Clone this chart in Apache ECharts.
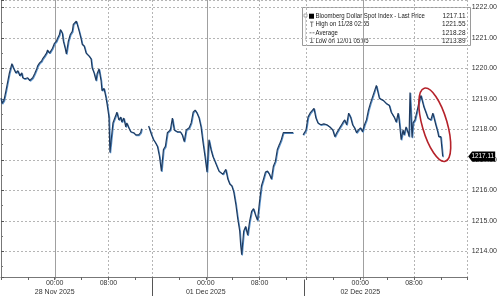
<!DOCTYPE html>
<html>
<head>
<meta charset="utf-8">
<script src="https://cdn.jsdelivr.net/npm/echarts@6/dist/echarts.min.js"></script>
<style>
html,body{margin:0;padding:0;background:#fff;}
#c{width:500px;height:296px;}
</style>
</head>
<body>
<div id="c"></div>
<script>
// ---- data (trading-time hours from chart start, price) ----
const hours = [
0,0.15,0.44,0.74,1.03,1.25,1.62,1.84,2.06,2.21,2.51,2.80,3.10,3.24,3.54,3.83,3.98,4.28,4.57,4.72,
5.01,5.31,5.46,5.75,6.05,6.19,6.49,6.78,6.93,7.23,7.52,7.67,7.96,8.26,8.41,8.70,8.85,9.14,9.29,9.59,
9.73,10.03,10.32,10.62,10.77,11.06,11.21,11.36,11.65,11.95,12.09,12.39,12.68,12.83,13.13,13.42,13.57,13.86,14.16,14.31,
14.60,14.90,15.04,15.34,15.63,15.78,16.08,16.22,16.52,16.67,17.11,17.26,17.55,17.85,17.99,18.29,18.58,18.73,19.03,19.32,
19.47,19.76,20.06,20.21,20.50,20.80,20.94,21.45,
21.98,22.27,22.42,22.71,23.01,23.30,23.60,23.89,24.19,24.48,24.78,25.22,25.52,25.81,26.25,26.70,26.99,27.29,27.58,28.02,
28.32,28.61,28.91,29.20,29.50,29.79,30.09,30.38,30.68,30.97,31.27,31.56,31.86,32.15,32.45,32.74,33.04,33.48,33.78,34.07,
34.37,34.66,34.96,35.25,35.55,35.69,35.84,36.14,36.43,36.73,37.02,37.32,37.61,37.91,38.20,38.50,38.79,39.09,39.38,39.68,
39.97,40.27,40.56,40.86,41.15,41.45,41.74,42.04,42.33,42.63,42.92,43.22,43.51,44.20,
44.99,45.43,45.72,46.02,46.31,46.61,46.90,47.20,47.64,48.08,48.53,48.97,49.41,49.71,50.00,50.44,50.88,51.18,51.47,51.77,
52.06,52.36,52.65,52.95,53.24,53.54,53.83,54.13,54.42,54.72,55.01,55.31,55.60,55.90,56.34,56.93,57.37,57.82,58.11,58.55,
58.85,59.14,59.29,59.59,59.88,60.03,60.32,60.62,60.77,60.91,61.21,61.36,61.65,62.09,62.24,62.54,62.83,62.98,63.27,63.57,
63.72,64.01,64.31,64.45,64.75,65.04,65.19,65.49,65.63,65.78
];
const price = [
1219.02,1218.85,1218.95,1219.27,1219.60,1219.85,1220.15,1220.02,1219.98,1219.85,1219.92,1219.76,1219.85,1219.69,1219.66,1219.60,1219.69,1219.60,1219.66,1219.69,
1219.82,1219.98,1220.08,1220.18,1220.24,1220.31,1220.40,1220.50,1220.60,1220.50,1220.56,1220.66,1220.82,1220.89,1220.98,1221.11,1221.27,1221.15,1220.89,1220.63,
1220.47,1220.89,1221.11,1221.21,1221.44,1221.50,1221.55,1221.44,1221.21,1220.95,1220.79,1220.73,1220.50,1220.47,1220.40,1220.31,1220.02,1219.85,1219.60,1219.82,
1219.98,1219.60,1219.27,1219.34,1219.05,1218.85,1218.40,1217.24,1217.89,1218.21,1218.47,1218.56,1218.31,1218.40,1218.24,1218.37,1218.08,1218.21,1218.05,1217.92,
1217.89,1217.89,1217.82,1217.79,1217.82,1217.89,1218.02,null,
1218.11,1217.92,1217.82,1217.66,1217.56,1217.44,1217.11,1216.63,1217.34,1217.44,1217.89,1217.98,1218.37,1217.98,1217.92,1217.92,1217.82,1217.60,1217.98,1218.05,
1218.21,1218.56,1218.63,1218.53,1218.37,1218.08,1217.56,1217.11,1216.60,1217.66,1217.34,1217.11,1216.95,1216.92,1216.63,1216.60,1216.53,1216.69,1216.37,1216.21,
1216.15,1215.95,1215.56,1215.08,1214.66,1214.21,1213.89,1214.66,1214.82,1214.53,1214.98,1215.31,1215.40,1215.18,1215.02,1215.63,1216.15,1216.37,1216.60,1216.63,
1216.53,1216.37,1216.79,1216.95,1217.34,1217.50,1217.66,1217.89,1217.92,1217.89,1217.92,1217.89,1217.89,null,
1217.82,1217.98,1218.40,1218.53,1218.47,1218.69,1218.37,1218.21,1218.15,1218.18,1218.15,1218.08,1217.98,1217.76,1217.89,1218.05,1218.21,1218.31,1218.15,1218.53,
1218.40,1218.15,1218.05,1217.89,1217.98,1218.05,1217.92,1218.15,1218.31,1218.63,1218.85,1219.05,1219.11,1219.44,1219.02,1218.95,1218.85,1218.79,1218.56,1218.40,
1218.24,1218.53,1218.31,1217.66,1217.98,1217.82,1218.08,1217.89,1217.76,1219.21,1217.73,1218.21,1218.31,1218.73,1218.89,1219.11,1219.05,1218.73,1218.56,1218.37,
1218.40,1218.31,1218.53,1218.47,1218.15,1217.92,1217.76,1217.76,1217.73,1217.11
];
const lastPrice = 1217.11;
const legendRows = ['Bloomberg Dollar Spot Index - Last Price','High on 11/28 02:55','Average','Low on 12/01 05:05'];
const legendValues = ['1217.11','1221.55','1218.28','1213.89'];
const sessions = [
  {day0:'27 Nov 2025', day1:'28 Nov 2025', start:'16:00', slots:89},
  {day0:'30 Nov 2025', day1:'01 Dec 2025', start:'16:00', slots:89},
  {day0:'01 Dec 2025', day1:'02 Dec 2025', start:'15:30', slots:99}
];
const SLOT_MIN = 15;
const tickTimes = ['00:00','04:00','08:00','12:00','16:00','20:00'];
const labelTimes = ['00:00','08:00'];
const dottedTimes = ['08:00','16:00'];
const solidTimes = ['00:00'];
const yMin = 1213.16, yMax = 1222.24;

// ---- category time slots for the trading-time axis ----
const categories = [];
sessions.forEach((s, si) => {
  if (si) categories.push('sep');
  const [H, M] = s.start.split(':').map(Number);
  for (let k = 0; k < s.slots; k++) {
    const m = H * 60 + M + k * SLOT_MIN;
    const day = m >= 1440 ? s.day1 : s.day0;
    const mm = m % 1440;
    categories.push(day + ' ' + String(Math.floor(mm / 60)).padStart(2, '0') + ':' + String(mm % 60).padStart(2, '0'));
  }
});
const spanHours = (categories.length - 1) * SLOT_MIN / 60;
const hm = v => v === 'sep' ? '' : v.slice(-5);
const dayOf = v => v.slice(0, -6);

const FONT = 'Liberation Sans';
const seriesData = hours.map((h, i) => [h, price[i]]);

const chart = echarts.init(document.getElementById('c'), null, {renderer: 'canvas'});
const gridPos = {left: 1, right: 28, top: -2, bottom: 16.5};
chart.setOption({
  animation: false,
  backgroundColor: '#fff',
  textStyle: {fontFamily: FONT},
  grid: [Object.assign({}, gridPos), Object.assign({}, gridPos)],
  xAxis: [
    {type: 'value', gridIndex: 0, position: 'top', min: 0, max: spanHours, show: false},
    {type: 'category', gridIndex: 0, position: 'bottom', data: categories, boundaryGap: false,
     axisLine: {show: true, lineStyle: {color: '#777', width: 1}},
     axisTick: {show: true, length: 3, interval: (i, v) => tickTimes.includes(hm(v)), lineStyle: {color: '#666'}},
     axisLabel: {show: true, interval: (i, v) => labelTimes.includes(hm(v)), fontSize: 7, color: '#333', margin: 2,
       lineHeight: 8.5, fontFamily: FONT,
       formatter: (v) => hm(v) === '00:00' ? '00:00\n' + dayOf(v) : hm(v)},
     splitLine: {show: true, interval: (i, v) => dottedTimes.includes(hm(v)), lineStyle: {color: '#b5b5b5', type: [2, 2], width: 1}}
    },
    {type: 'category', gridIndex: 1, position: 'bottom', data: categories, boundaryGap: false,
     axisLine: {show: false},
     axisTick: {show: true, length: 17, interval: (i, v) => v === 'sep', lineStyle: {color: '#555', width: 1}},
     axisLabel: {show: false},
     splitLine: {show: true, interval: (i, v) => solidTimes.includes(hm(v)), lineStyle: {color: '#a0a0a0', type: 'solid', width: 1}}
    }
  ],
  yAxis: [
    {type: 'value', gridIndex: 0, position: 'right', min: yMin, max: yMax, splitNumber: 9,
     axisLine: {show: true, lineStyle: {color: '#777'}},
     axisTick: {show: true, length: 3, lineStyle: {color: '#555'}},
     minorTick: {show: true, splitNumber: 2, length: 2, lineStyle: {color: '#777'}},
     axisLabel: {fontSize: 7, color: '#333', margin: 4, fontFamily: FONT, showMinLabel: false, showMaxLabel: false,
       formatter: v => v.toFixed(2)},
     splitLine: {show: true, lineStyle: {color: '#b5b5b5', type: [2, 2], width: 1}}
    },
    {type: 'value', gridIndex: 1, show: false}
  ],
  series: [{
    type: 'line', xAxisIndex: 0, yAxisIndex: 0, data: seriesData, showSymbol: false, connectNulls: false,
    lineStyle: {color: '#1f3a5e', width: 1.2, shadowColor: 'rgba(85,145,205,0.95)', shadowOffsetX: 0.7, shadowOffsetY: 0.7},
    z: 3,
    markPoint: {
      silent: true, animation: false,
      symbol: 'path://M0,5L4,0L28,0L28,10L4,10Z', symbolSize: [27, 10], symbolKeepAspect: false, symbolOffset: [14, 0],
      itemStyle: {color: '#000'},
      label: {show: true, position: 'inside', color: '#fff', fontSize: 6.4, fontFamily: FONT, offset: [1, 0], formatter: () => lastPrice.toFixed(2)},
      data: [{coord: [spanHours, lastPrice]}]
    }
  }],
  graphic: [{
    type: 'group', left: 302, top: 7, z: 10,
    children: [
      {type: 'rect', shape: {x: 0, y: 0, width: 168, height: 38}, style: {fill: '#fff', stroke: '#9a9a9a', lineWidth: 1}},
      {type: 'rect', shape: {x: 1.5, y: 6.5, width: 3, height: 3}, style: {fill: '#fff', stroke: '#999', lineWidth: 0.8}},
      {type: 'line', shape: {x1: 3, y1: 10, x2: 3, y2: 34}, style: {stroke: '#aaa', lineWidth: 0.8, lineDash: [1, 1]}},
      {type: 'rect', shape: {x: 6.5, y: 6.2, width: 5, height: 5}, style: {fill: '#000'}},
      {type: 'line', shape: {x1: 7.5, y1: 14.5, x2: 11, y2: 14.5}, style: {stroke: '#555', lineWidth: 0.8}},
      {type: 'line', shape: {x1: 9.2, y1: 14.5, x2: 9.2, y2: 19.5}, style: {stroke: '#555', lineWidth: 0.8}},
      {type: 'line', shape: {x1: 7, y1: 25.3, x2: 12, y2: 25.3}, style: {stroke: '#555', lineWidth: 0.8, lineDash: [2, 1]}},
      {type: 'line', shape: {x1: 9.2, y1: 30, x2: 9.2, y2: 35}, style: {stroke: '#555', lineWidth: 0.8}},
      {type: 'line', shape: {x1: 7.5, y1: 35, x2: 11, y2: 35}, style: {stroke: '#555', lineWidth: 0.8}},
      ...legendRows.map((t, i) => ({type: 'text', x: 13, y: 8.7 + i * 8.3, scaleX: 0.84,
        style: {text: t, fontSize: 7.2, fill: '#222', fontFamily: FONT, verticalAlign: 'middle', textAlign: 'left'}})),
      ...legendValues.map((t, i) => ({type: 'text', x: 163, y: 8.7 + i * 8.3, scaleX: 0.9,
        style: {text: t, fontSize: 7.2, fill: '#222', fontFamily: FONT, verticalAlign: 'middle', textAlign: 'right'}}))
    ]
  }]
});

// highlight ellipse anchored to the data coordinates
const ctr = chart.convertToPixel({xAxisIndex: 0, yAxisIndex: 0}, [64.6, 1218.15]);
chart.setOption({
  graphic: [{
    type: 'ellipse', id: 'hl', z: 11, x: ctr[0], y: ctr[1], rotation: 0.28,
    shape: {cx: 0, cy: 0, rx: 12.5, ry: 38},
    style: {fill: 'none', stroke: '#b5222a', lineWidth: 1.6}
  }]
});
</script>
</body>
</html>
